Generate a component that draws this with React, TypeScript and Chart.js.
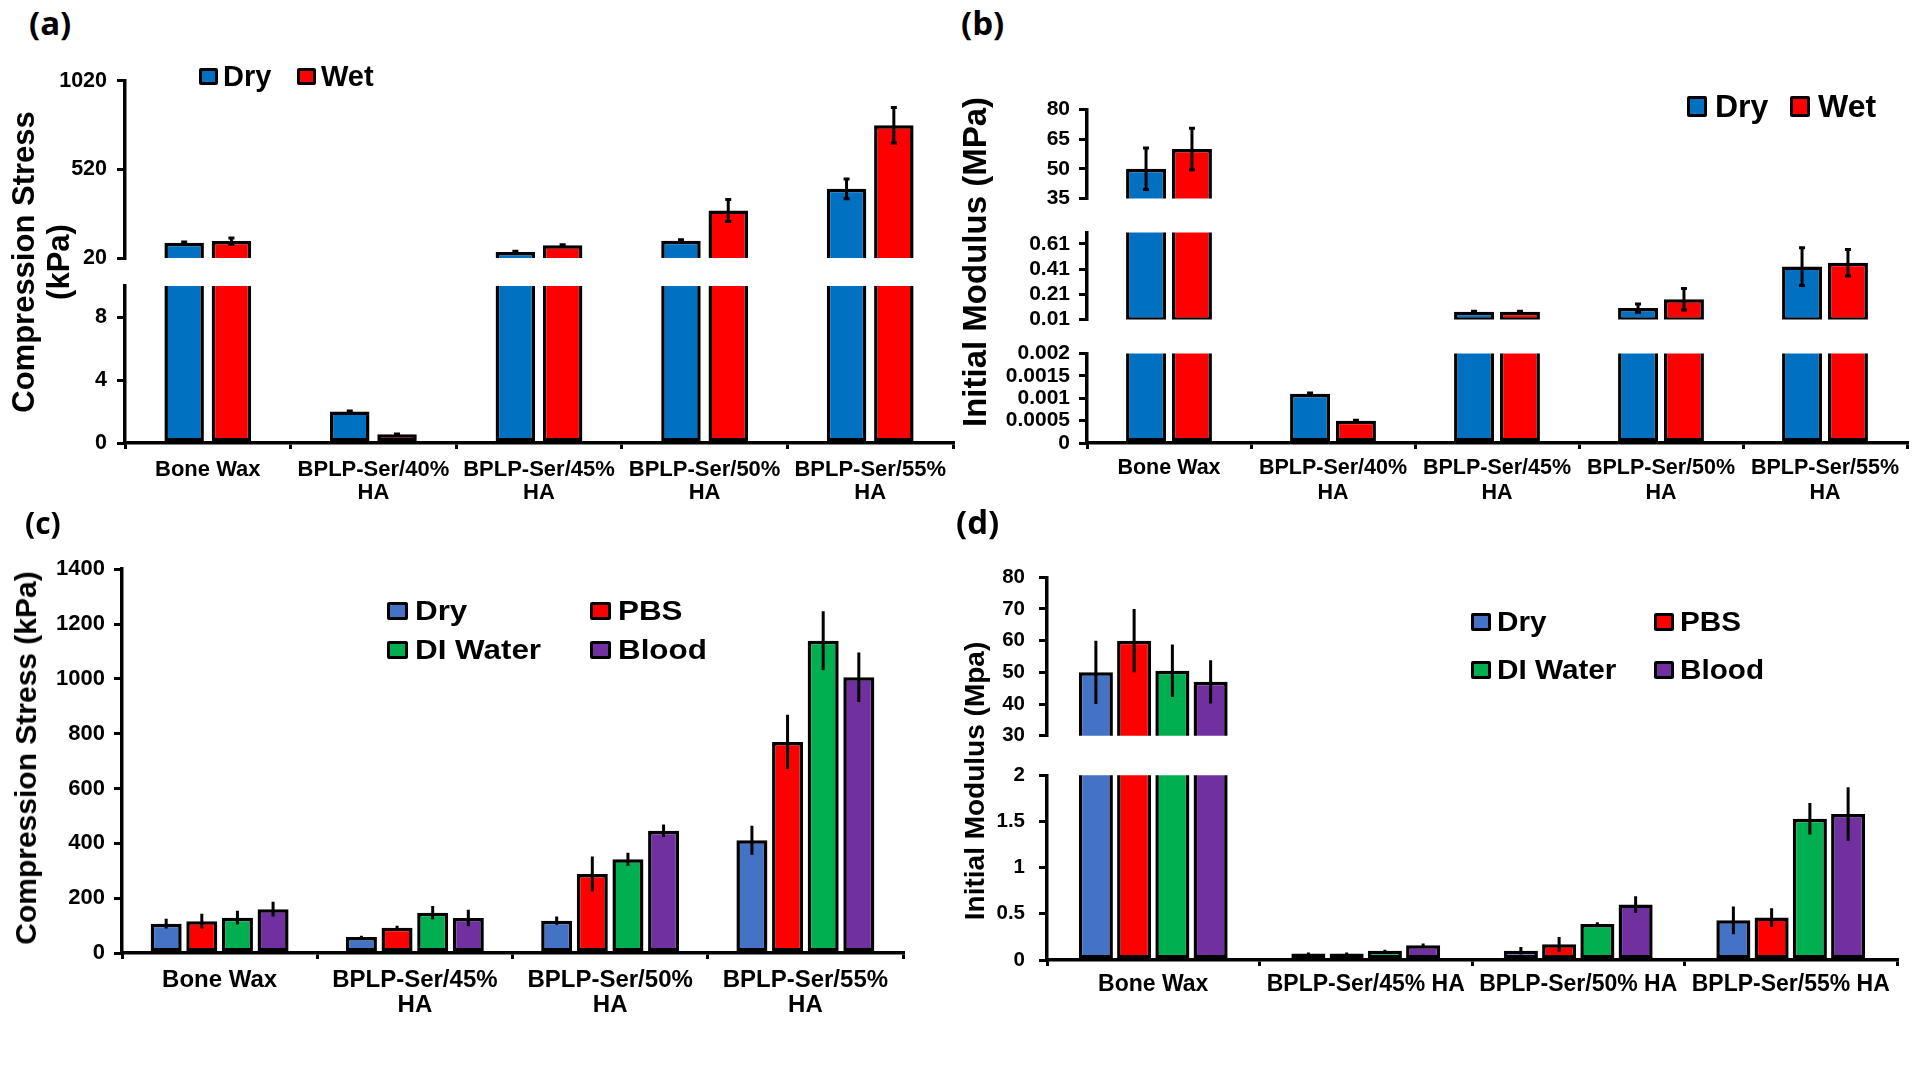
import React, { useEffect, useRef } from "react";
import { Chart, registerables } from "chart.js";

Chart.register(...registerables);

const FONT = "'Liberation Sans', Arial, Helvetica, sans-serif";
const LABEL_FONT = "'Open Sans', 'Liberation Sans', sans-serif";

// ---------------- Panel (a) data ----------------
const categoriesA = ["Bone Wax", ["BPLP-Ser/40%", "HA"], ["BPLP-Ser/45%", "HA"], ["BPLP-Ser/50%", "HA"], ["BPLP-Ser/55%", "HA"]];
const seriesNamesAB = ["Dry", "Wet"];
const dryA = [107, 2.0, 55, 118, 411];
const dryErrA = [4, 0.03, 3, 6, 56];
const wetA = [116, 0.55, 92, 288, 770];
const wetErrA = [18, 0.03, 3, 62, 100];
const ticksAUpper = [20, 520, 1020];
const ticksALower = [0, 4, 8];

// ---------------- Panel (b) data ----------------
const categoriesB = ["Bone Wax", ["BPLP-Ser/40%", "HA"], ["BPLP-Ser/45%", "HA"], ["BPLP-Ser/50%", "HA"], ["BPLP-Ser/55%", "HA"]];
const dryB = [50, 0.0011, 0.07, 0.1, 0.43];
const dryErrB = [10.5, 0.00002, 0.004, 0.033, 0.15];
const wetB = [60, 0.0005, 0.07, 0.17, 0.46];
const wetErrB = [10.5, 0.00001, 0.004, 0.085, 0.105];
const ticksBTop = [35, 50, 65, 80];
const ticksBMid = [0.01, 0.21, 0.41, 0.61];
const ticksBLow = [0, 0.0005, 0.001, 0.0015, 0.002];

// ---------------- Panel (c) data ----------------
const categoriesC = ["Bone Wax", ["BPLP-Ser/45%", "HA"], ["BPLP-Ser/50%", "HA"], ["BPLP-Ser/55%", "HA"]];
const seriesNamesCD = ["Dry", "PBS", "DI Water", "Blood"];
const dryC = [107, 58, 118, 411];
const dryErrC = [18, 5, 15, 53];
const pbsC = [116, 92, 288, 770];
const pbsErrC = [27, 7, 64, 99];
const diC = [129, 147, 342, 1139];
const diErrC = [25, 24, 24, 108];
const bloodC = [160, 128, 446, 1006];
const bloodErrC = [27, 30, 23, 90];
const ticksC = [0, 200, 400, 600, 800, 1000, 1200, 1400];

// ---------------- Panel (d) data ----------------
const categoriesD = ["Bone Wax", "BPLP-Ser/45% HA", "BPLP-Ser/50% HA", "BPLP-Ser/55% HA"];
const dryD = [50, 0.07, 0.1, 0.43];
const dryErrD = [10, 0.01, 0.04, 0.15];
const pbsD = [60, 0.07, 0.17, 0.46];
const pbsErrD = [10, 0.01, 0.08, 0.1];
const diD = [50.5, 0.1, 0.39, 1.53];
const diErrD = [8.3, 0.01, 0.02, 0.17];
const bloodD = [47, 0.16, 0.6, 1.58];
const bloodErrD = [6.8, 0.02, 0.09, 0.29];
const ticksDTop = [30, 40, 50, 60, 70, 80];
const ticksDLow = [0, 0.5, 1, 1.5, 2];

// ---------------- colours ----------------
const BLUE_AB = "#0070C0";
const RED = "#FF0000";
const BLUE_CD = "#4472C4";
const GREEN = "#00B050";
const PURPLE = "#7030A0";

// ---------------- layout constants ----------------
const PADL = 10;
const AXW = 110;
const PADT = 18;
const PADR = 18;
const PADB = 18;
const XH = 80;

const errorBarPlugin = {
  id: "errorBars",
  afterDatasetsDraw(chart: any, _args: any, opts: any) {
    const { ctx, chartArea } = chart;
    const y = chart.scales.y;
    const cap = opts.cap || 0;
    ctx.save();
    ctx.beginPath();
    ctx.rect(chartArea.left, chartArea.top - 1, chartArea.right - chartArea.left, chartArea.bottom - chartArea.top + 1);
    ctx.clip();
    ctx.strokeStyle = "#000";
    ctx.lineWidth = opts.width || 3;
    chart.data.datasets.forEach((ds: any, i: number) => {
      const meta = chart.getDatasetMeta(i);
      (ds.errors || []).forEach((e: number, j: number) => {
        const v = ds.data[j];
        if (v == null || !e) return;
        const el = meta.data[j];
        if (!el) return;
        const yTop = y.getPixelForValue(v + e);
        const yBot = y.getPixelForValue(v - e);
        ctx.beginPath();
        ctx.moveTo(el.x, yTop);
        ctx.lineTo(el.x, yBot);
        if (cap) {
          ctx.moveTo(el.x - cap / 2, yTop);
          ctx.lineTo(el.x + cap / 2, yTop);
          ctx.moveTo(el.x - cap / 2, yBot);
          ctx.lineTo(el.x + cap / 2, yBot);
        }
        ctx.stroke();
      });
    });
    ctx.restore();
  },
};

type Series = { name: string; values: number[]; errors: number[]; color: string };
type SegSpec = {
  left: number; right: number; top: number; bottom: number;
  min: number; max: number; ticks: number[];
  showX: boolean; labels: any[]; series: Series[];
  catPct: number; barPct: number;
  tickSize: number; tickPad: number;
  xSize: number; xLineHeight: number; xPad: number;
  cap: number;
};

function geom(s: SegSpec) {
  const x = s.left - AXW - PADL;
  const y = s.top - PADT;
  const w = PADL + AXW + (s.right - s.left) + PADR;
  const h = PADT + (s.bottom - s.top) + (s.showX ? XH : 0) + PADB;
  return { x, y, w, h };
}

function makeConfig(s: SegSpec): any {
  return {
    type: "bar",
    data: {
      labels: s.labels,
      datasets: s.series.map((se) => ({
        label: se.name,
        data: se.values.map((v) => (v > s.min ? v : null)),
        errors: se.errors,
        backgroundColor: se.color,
        borderColor: "#000",
        borderWidth: 3.5,
        borderSkipped: false,
        categoryPercentage: s.catPct,
        barPercentage: s.barPct,
        clip: 0,
      })),
    },
    options: {
      responsive: false,
      maintainAspectRatio: false,
      animation: false,
      devicePixelRatio: 1,
      layout: { padding: { left: PADL, right: PADR, top: PADT, bottom: PADB } },
      plugins: {
        legend: { display: false },
        tooltip: { enabled: false },
        errorBars: { cap: s.cap, width: 3 },
      },
      scales: {
        x: {
          type: "category",
          display: s.showX,
          offset: true,
          grid: { display: true, offset: true, drawOnChartArea: false, drawTicks: true, tickLength: 6, lineWidth: 3, color: "#000" },
          border: { display: true, color: "#000", width: 3.5, z: 1 },
          ticks: {
            color: "#000",
            font: { family: FONT, size: s.xSize, weight: "bold", lineHeight: s.xLineHeight },
            padding: s.xPad,
            autoSkip: false,
            maxRotation: 0,
            minRotation: 0,
          },
          afterFit: (sc: any) => { sc.height = s.showX ? XH : 0; },
        },
        y: {
          type: "linear",
          position: "left",
          min: s.min,
          max: s.max,
          grid: { drawOnChartArea: false, drawTicks: true, tickLength: 8, lineWidth: 3, color: "#000" },
          border: { display: true, color: "#000", width: 3.5, z: 1 },
          ticks: {
            color: "#000",
            font: { family: FONT, size: s.tickSize, weight: "bold" },
            padding: s.tickPad,
            autoSkip: false,
            callback: (v: any) => String(v),
          },
          afterBuildTicks: (sc: any) => { sc.ticks = s.ticks.map((v) => ({ value: v })); },
          afterFit: (sc: any) => { sc.width = AXW; },
        },
      },
    },
    plugins: [errorBarPlugin],
  };
}

function Segment({ spec }: { spec: SegSpec }) {
  const ref = useRef<HTMLCanvasElement>(null);
  useEffect(() => {
    const chart = new Chart(ref.current as HTMLCanvasElement, makeConfig(spec));
    return () => chart.destroy();
  }, []);
  const g = geom(spec);
  return (
    <canvas
      ref={ref}
      width={g.w}
      height={g.h}
      style={{ position: "absolute", left: g.x, top: g.y, width: g.w, height: g.h, display: "block" }}
    />
  );
}

function LegendItem({ x, cy, color, text, size, sw, sh, gap, sx = 1 }: any) {
  return (
    <div
      style={{
        position: "absolute", left: x, top: cy - 25, height: 50, display: "flex", alignItems: "center",
        font: `bold ${size}px ${FONT}`, whiteSpace: "nowrap", color: "#000",
      }}
    >
      <span
        style={{
          display: "inline-block", width: sw, height: sh, boxSizing: "border-box", border: "3px solid #000",
          borderRadius: 2, background: color, marginRight: gap, flex: "none",
        }}
      />
      <span style={{ display: "inline-block", transform: `scaleX(${sx})`, transformOrigin: "left center" }}>{text}</span>
    </div>
  );
}

function RotTitle({ cx, cy, lines, size, lh }: any) {
  return (
    <div
      style={{
        position: "absolute", left: cx, top: cy, transform: "translate(-50%, -50%) rotate(-90deg)",
        font: `bold ${size}px ${FONT}`, lineHeight: lh ? `${lh}px` : "normal", whiteSpace: "nowrap",
        textAlign: "center", color: "#000",
      }}
    >
      {lines.map((l: string, i: number) => (<div key={i}>{l}</div>))}
    </div>
  );
}

function PanelLabel({ x, y, text, size }: any) {
  return (
    <div style={{ position: "absolute", left: x, top: y, font: `bold ${size}px ${LABEL_FONT}`, lineHeight: 1, color: "#000", whiteSpace: "nowrap" }}>
      {text}
    </div>
  );
}

// ---------------- segment specs ----------------
const seriesA: Series[] = [
  { name: seriesNamesAB[0], values: dryA, errors: dryErrA, color: BLUE_AB },
  { name: seriesNamesAB[1], values: wetA, errors: wetErrA, color: RED },
];
const seriesB: Series[] = [
  { name: seriesNamesAB[0], values: dryB, errors: dryErrB, color: BLUE_AB },
  { name: seriesNamesAB[1], values: wetB, errors: wetErrB, color: RED },
];
const seriesC: Series[] = [
  { name: seriesNamesCD[0], values: dryC, errors: dryErrC, color: BLUE_CD },
  { name: seriesNamesCD[1], values: pbsC, errors: pbsErrC, color: RED },
  { name: seriesNamesCD[2], values: diC, errors: diErrC, color: GREEN },
  { name: seriesNamesCD[3], values: bloodC, errors: bloodErrC, color: PURPLE },
];
const seriesD: Series[] = [
  { name: seriesNamesCD[0], values: dryD, errors: dryErrD, color: BLUE_CD },
  { name: seriesNamesCD[1], values: pbsD, errors: pbsErrD, color: RED },
  { name: seriesNamesCD[2], values: diD, errors: diErrD, color: GREEN },
  { name: seriesNamesCD[3], values: bloodD, errors: bloodErrD, color: PURPLE },
];

const baseA = {
  left: 125, right: 953, labels: categoriesA, series: seriesA, catPct: 0.571, barPct: 0.835,
  tickSize: 21.5, tickPad: 10, xSize: 22, xLineHeight: 1.05, xPad: 9.5, cap: 6,
};
const baseB = {
  left: 1087, right: 1907, labels: categoriesB, series: seriesB, catPct: 0.56, barPct: 0.87,
  tickSize: 21, tickPad: 9, xSize: 21.5, xLineHeight: 1.15, xPad: 6.5, cap: 6,
};
const baseC = {
  left: 122, right: 903, labels: categoriesC, series: seriesC, catPct: 0.73, barPct: 0.87,
  tickSize: 22, tickPad: 9, xSize: 24, xLineHeight: 1.05, xPad: 8.5, cap: 0,
};
const baseD = {
  left: 1047, right: 1897, labels: categoriesD, series: seriesD, catPct: 0.72, barPct: 0.89,
  tickSize: 20.5, tickPad: 14, xSize: 23, xLineHeight: 1.2, xPad: 5, cap: 0,
};

const segments: SegSpec[] = [
  { ...baseA, top: 76, bottom: 263, min: 20, max: 1020, ticks: ticksAUpper, showX: false },
  { ...baseA, top: 281, bottom: 443, min: 0, max: 10, ticks: ticksALower, showX: true },
  { ...baseB, top: 106, bottom: 202, min: 35, max: 80, ticks: ticksBTop, showX: false },
  { ...baseB, top: 229, bottom: 323, min: 0.01, max: 0.7, ticks: ticksBMid, showX: false },
  { ...baseB, top: 350, bottom: 443, min: 0, max: 0.002, ticks: ticksBLow, showX: true },
  { ...baseC, top: 565, bottom: 953, min: 0, max: 1400, ticks: ticksC, showX: true },
  { ...baseD, top: 569, bottom: 744, min: 30, max: 80, ticks: ticksDTop, showX: false },
  { ...baseD, top: 767, bottom: 960, min: 0, max: 2, ticks: ticksDLow, showX: true },
];

export default function App() {
  return (
    <div style={{ position: "absolute", left: 0, top: 0, width: 1920, height: 1089, background: "#fff", overflow: "hidden" }}>
      {segments.map((s, i) => (<Segment key={i} spec={s} />))}

      <PanelLabel x={29} y={6} text="(a)" size={33} />
      <PanelLabel x={961} y={6} text="(b)" size={33} />
      <PanelLabel x={25} y={508} text="(c)" size={30} />
      <PanelLabel x={956} y={505} text="(d)" size={33} />

      <RotTitle cx={41} cy={262} lines={["Compression Stress", "(kPa)"]} size={31} lh={35} />
      <RotTitle cx={975} cy={262} lines={["Initial Modulus (MPa)"]} size={33} />
      <RotTitle cx={26} cy={758} lines={["Compression Stress (kPa)"]} size={30} />
      <RotTitle cx={975} cy={781} lines={["Initial Modulus (Mpa)"]} size={28} />

      <LegendItem x={199} cy={76} color={BLUE_AB} text={seriesNamesAB[0]} size={29} sw={19} sh={17} gap={5} />
      <LegendItem x={297} cy={76} color={RED} text={seriesNamesAB[1]} size={29} sw={19} sh={17} gap={5} />

      <LegendItem x={1687} cy={106} color={BLUE_AB} text={seriesNamesAB[0]} size={32} sw={20} sh={21} gap={8} />
      <LegendItem x={1790} cy={106} color={RED} text={seriesNamesAB[1]} size={32} sw={20} sh={21} gap={8} />

      <LegendItem x={387} cy={611} color={BLUE_CD} text={seriesNamesCD[0]} size={28} sw={21} sh={18} gap={7} sx={1.12} />
      <LegendItem x={590} cy={611} color={RED} text={seriesNamesCD[1]} size={28} sw={21} sh={18} gap={7} sx={1.12} />
      <LegendItem x={387} cy={650} color={GREEN} text={seriesNamesCD[2]} size={28} sw={21} sh={18} gap={7} sx={1.12} />
      <LegendItem x={590} cy={650} color={PURPLE} text={seriesNamesCD[3]} size={28} sw={21} sh={18} gap={7} sx={1.12} />

      <LegendItem x={1471} cy={622} color={BLUE_CD} text={seriesNamesCD[0]} size={27} sw={20} sh={18} gap={6} sx={1.1} />
      <LegendItem x={1654} cy={622} color={RED} text={seriesNamesCD[1]} size={27} sw={20} sh={18} gap={6} sx={1.1} />
      <LegendItem x={1471} cy={670} color={GREEN} text={seriesNamesCD[2]} size={27} sw={20} sh={18} gap={6} sx={1.1} />
      <LegendItem x={1654} cy={670} color={PURPLE} text={seriesNamesCD[3]} size={27} sw={20} sh={18} gap={6} sx={1.1} />
    </div>
  );
}
